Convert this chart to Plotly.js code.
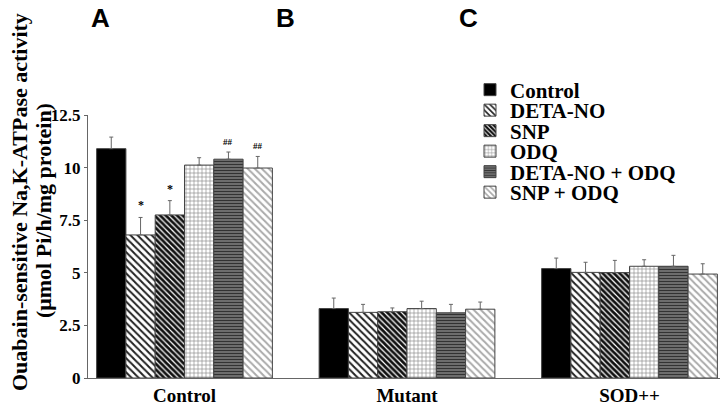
<!DOCTYPE html>
<html>
<head>
<meta charset="utf-8">
<script src="https://cdn.plot.ly/plotly-3.0.1.min.js"></script>
<style>
  html, body { margin: 0; padding: 0; background: #fff; }
  #chart { width: 720px; height: 405px; }
</style>
</head>
<body>
<div id="chart"></div>
<script>
// groups on the x axis
const groups = ['Control', 'Mutant', 'SOD++'];

// treatments (one bar per treatment in each group)
const treatments = ['Control', 'DETA-NO', 'SNP', 'ODQ', 'DETA-NO + ODQ', 'SNP + ODQ'];

// mean activity, one array per treatment: [Control, Mutant, SOD++]
const ctrlVals     = [10.9, 3.3, 5.2];
const detaVals     = [6.8, 3.12, 5.02];
const snpVals      = [7.75, 3.15, 5.01];
const odqVals      = [10.12, 3.3, 5.31];
const detaOdqVals  = [10.4, 3.1, 5.31];
const snpOdqVals   = [9.98, 3.27, 4.94];

// upper error bars (SEM)
const ctrlErr     = [0.55, 0.5, 0.5];
const detaErr     = [0.83, 0.38, 0.48];
const snpErr      = [0.68, 0.18, 0.58];
const odqErr      = [0.35, 0.35, 0.31];
const detaOdqErr  = [0.34, 0.4, 0.52];
const snpOdqErr   = [0.55, 0.34, 0.49];

// significance marks in the Control group
const sigTreatment = [1, 2, 4, 5];
const sigLabels    = ['*', '*', '##', '##'];

const allVals = [ctrlVals, detaVals, snpVals, odqVals, detaOdqVals, snpOdqVals];
const allErr  = [ctrlErr, detaErr, snpErr, odqErr, detaOdqErr, snpOdqErr];

// fill pattern of each treatment
const patterns = [
  { shape: '', bgcolor: '#000', fgcolor: '#000' },
  { shape: '\\', bgcolor: '#fff', fgcolor: '#222', size: 5, solidity: 0.4 },
  { shape: '\\', bgcolor: '#fff', fgcolor: '#111', size: 4, solidity: 0.7 },
  { shape: '+', bgcolor: '#fff', fgcolor: '#888', size: 4, solidity: 0.3 },
  { shape: '-', bgcolor: '#888', fgcolor: '#333', size: 3, solidity: 0.55 },
  { shape: '\\', bgcolor: '#fff', fgcolor: '#aaa', size: 5, solidity: 0.4 }
];

const serif = 'Liberation Serif, Times New Roman, serif';
const bargap = 0.21;

// one legend per trace so the rows can sit close together
const legendIds = ['legend', 'legend2', 'legend3', 'legend4', 'legend5', 'legend6'];

const traces = treatments.map((name, i) => ({
  type: 'bar',
  name: name,
  x: groups,
  y: allVals[i],
  legend: legendIds[i],
  marker: {
    color: i === 0 ? '#000' : patterns[i].bgcolor,
    pattern: patterns[i],
    line: { color: '#444', width: 1 }
  },
  error_y: {
    type: 'data',
    symmetric: false,
    array: allErr[i],
    arrayminus: allVals[i].map(() => 0),
    color: '#666',
    thickness: 1,
    width: 2
  }
}));

// position of bar i inside a group (category units)
const barW = (1 - bargap) / treatments.length;
function barOffset(i) { return -(1 - bargap) / 2 + (i + 0.5) * barW; }

const annotations = sigTreatment.map((t, k) => ({
  x: barOffset(t),
  y: allVals[t][0] + allErr[t][0],
  xref: 'x', yref: 'y',
  text: sigLabels[k],
  showarrow: false,
  yanchor: 'bottom',
  yshift: 3,
  font: { family: serif, size: sigLabels[k] === '*' ? 12 : 9, color: '#000', weight: 'bold' }
}));

// panel letters
[['A', 100], ['B', 285], ['C', 468]].forEach(([t, px]) => {
  annotations.push({
    x: (px - 88) / 632, y: (378 - 18) / 263,
    xref: 'paper', yref: 'paper',
    text: t, showarrow: false,
    xanchor: 'center', yanchor: 'middle',
    font: { family: 'Liberation Sans, Arial, sans-serif', size: 26, color: '#000', weight: 'bold' }
  });
});

// y axis title, two lines
[['Ouabain-sensitive Na,K-ATPase activity', 19, 202], ['(\u03bcmol Pi/h/mg protein)', 43, 211]].forEach(([t, px, py]) => {
  annotations.push({
    x: (px - 88) / 632, y: (378 - py) / 263,
    xref: 'paper', yref: 'paper',
    text: '<b>' + t + '</b>', showarrow: false, textangle: -90,
    xanchor: 'center', yanchor: 'middle',
    font: { family: serif, size: 22, color: '#000', weight: 'bold' }
  });
});

const layout = {
  width: 720,
  height: 405,
  margin: { l: 88, r: 0, t: 115, b: 27 },
  paper_bgcolor: '#fff',
  plot_bgcolor: '#fff',
  barmode: 'group',
  bargap: bargap,
  bargroupgap: 0,
  showlegend: true,
  xaxis: {
    range: [(88 - 184.5) / 222.5, (720 - 184.5) / 222.5],
    showline: true, linecolor: '#666', linewidth: 1,
    ticks: '',
    showgrid: false, zeroline: false,
    tickfont: { family: serif, size: 19, color: '#000', weight: 'bold' }
  },
  yaxis: {
    range: [0, 12.5],
    tickvals: [0, 2.5, 5, 7.5, 10, 12.5],
    ticktext: ['0', '2.5', '5', '7.5', '10', '12.5'],
    showline: true, linecolor: '#666', linewidth: 1,
    ticks: 'outside', ticklen: 3, tickcolor: '#666',
    showgrid: false, zeroline: false,
    tickfont: { family: serif, size: 17, color: '#000', weight: 'bold' }
  },
  annotations: annotations
};

// legend rows, 20 px apart starting at y = 90 px
legendIds.forEach((id, i) => {
  layout[id] = {
    x: (470 - 88) / 632, y: (378 - (90 + i * 20.5)) / 263,
    xanchor: 'left', yanchor: 'middle',
    font: { family: serif, size: 21, color: '#000', weight: 'bold' },
    bgcolor: 'rgba(0,0,0,0)',
    borderwidth: 0
  };
});

Plotly.newPlot('chart', traces, layout, { displayModeBar: false, staticPlot: true });
</script>
</body>
</html>
